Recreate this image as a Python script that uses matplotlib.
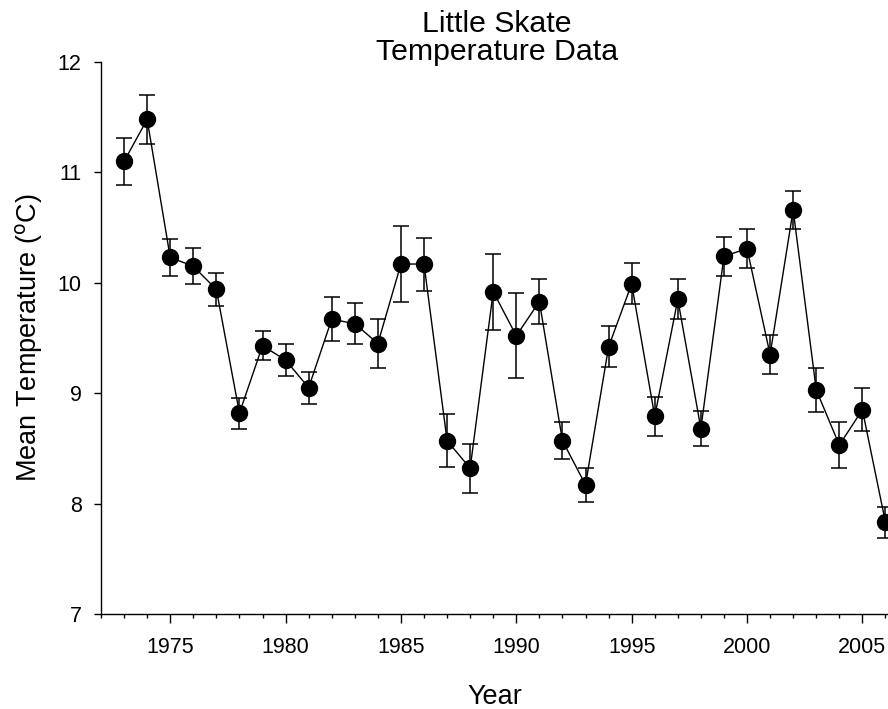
import matplotlib
matplotlib.use("Agg")
import matplotlib.pyplot as plt
from matplotlib.ticker import MultipleLocator

plt.rcParams['font.family'] = ['Liberation Sans', 'DejaVu Sans']

# survey data
years = list(range(1973, 2007))
mean_temp = [11.10, 11.48, 10.23, 10.15, 9.94, 8.82, 9.43, 9.30, 9.05, 9.67,
             9.63, 9.45, 10.17, 10.17, 8.57, 8.32, 9.92, 9.52, 9.83, 8.57,
             8.17, 9.42, 9.99, 8.79, 9.85, 8.68, 10.24, 10.31, 9.35, 10.66,
             9.03, 8.53, 8.85, 7.83]
std_err = [0.21, 0.22, 0.17, 0.165, 0.15, 0.14, 0.13, 0.145, 0.145, 0.20,
           0.185, 0.225, 0.34, 0.24, 0.24, 0.22, 0.345, 0.385, 0.205, 0.165,
           0.155, 0.185, 0.185, 0.175, 0.18, 0.16, 0.175, 0.175, 0.175, 0.17,
           0.20, 0.205, 0.195, 0.14]
y_ticks = [7, 8, 9, 10, 11, 12]
x_ticks = [1975, 1980, 1985, 1990, 1995, 2000, 2005]


def main():
    W, H = 888, 709
    fig = plt.figure(figsize=(W / 100, H / 100), dpi=100)
    left, right, top, bottom = 101, 888, 62, 614
    ax = fig.add_axes([left / W, 1 - bottom / H, (right - left) / W, (bottom - top) / H])

    ax.errorbar(years, mean_temp, yerr=std_err, color='black', marker='o',
                markersize=11.5, linewidth=1.0, elinewidth=1.1, capsize=6,
                capthick=1.1)

    ax.set_xlim(1972, 2006.11)
    ax.set_ylim(7, 12)
    ax.set_yticks(y_ticks)
    ax.set_xticks(x_ticks)
    ax.xaxis.set_minor_locator(MultipleLocator(1))

    for side in ('top', 'right'):
        ax.spines[side].set_visible(False)
    for side in ('left', 'bottom'):
        ax.spines[side].set_linewidth(1.0)

    ax.tick_params(axis='both', which='major', direction='out', labelsize=15.5,
                   width=1.0, colors='black')
    ax.tick_params(axis='y', which='major', length=5, pad=9)
    ax.tick_params(axis='x', which='major', length=6.5, pad=10)
    ax.tick_params(axis='x', which='minor', length=3.2, width=1.0)

    ax.set_xlabel('Year', fontsize=19.5, labelpad=19)
    ax.set_ylabel(r'Mean Temperature ($^{\rm o}$C)', fontsize=19.5, labelpad=9)

    fig.text((left + right) / 2 / W + 0.003, 1 - 60 / H, 'Little Skate\nTemperature Data',
             ha='center', va='baseline', fontsize=21.8, linespacing=1.02,
             multialignment='center')

    fig.savefig('out.png', dpi=100)
    plt.close(fig)


if __name__ == '__main__':
    main()
